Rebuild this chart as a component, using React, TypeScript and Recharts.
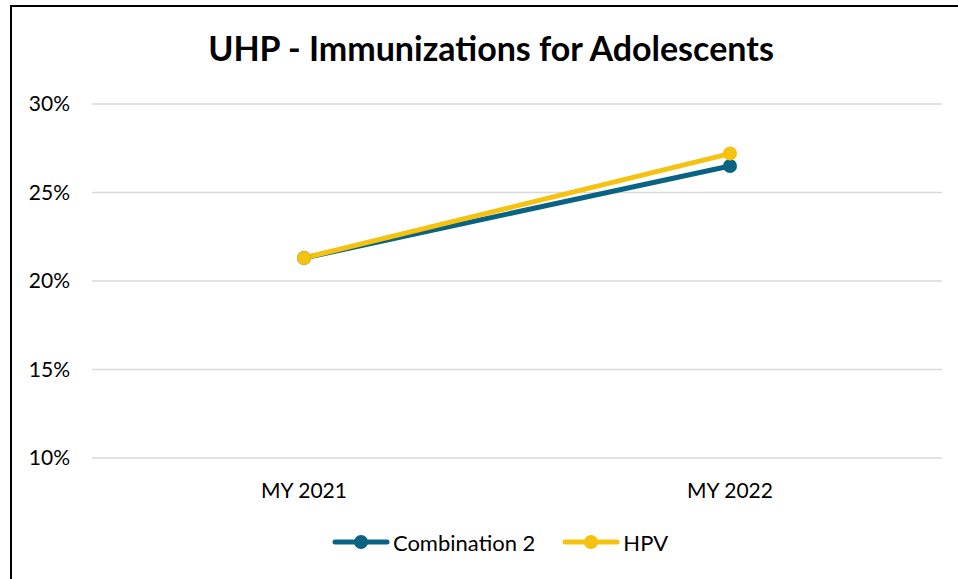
import { CartesianGrid, Legend, Line, LineChart, XAxis, YAxis } from "recharts";

const years = ["MY 2021", "MY 2022"];
const combination2 = [21.3, 26.5];
const hpv = [21.3, 27.2];
const yTicks = [10, 15, 20, 25, 30];

const seriesInfo = [
  { key: "combo", name: "Combination 2", color: "#0B6384" },
  { key: "hpv", name: "HPV", color: "#F5C20F" },
];

const rows = years.map((year, i) => ({ year, combo: combination2[i], hpv: hpv[i] }));

const FONT = "Lato, 'Open Sans', sans-serif";

function LegendRow() {
  return (
    <div
      style={{
        display: "flex",
        justifyContent: "center",
        gap: 27,
        paddingLeft: 46,
        fontFamily: FONT,
        fontSize: 22,
        color: "#000",
        height: 24,
      }}
    >
      {seriesInfo.map((s) => (
        <span key={s.key} style={{ display: "inline-flex", alignItems: "center", gap: 3 }}>
          <svg width={58} height={16}>
            <line x1={3} y1={8} x2={55} y2={8} stroke={s.color} strokeWidth={5} strokeLinecap="round" />
            <circle cx={29} cy={8} r={7} fill={s.color} />
          </svg>
          {s.name}
        </span>
      ))}
    </div>
  );
}

export default function App() {
  return (
    <div style={{ position: "absolute", left: 0, top: 0, width: 958, height: 579, overflow: "hidden", background: "#fff" }}>
      <div
        style={{
          position: "absolute",
          left: 10,
          top: 5,
          width: 1000,
          height: 700,
          borderLeft: "2px solid #000",
          borderTop: "2px solid #000",
        }}
      />
      <div
        style={{
          position: "absolute",
          left: 0,
          width: 982,
          top: 27,
          textAlign: "center",
          fontFamily: FONT,
          fontWeight: 700,
          fontSize: 34,
          color: "#000",
        }}
      >
        UHP - Immunizations for Adolescents
      </div>
      <div style={{ position: "absolute", left: 0, top: 0 }}>
        <LineChart width={958} height={579} data={rows} margin={{ top: 104, right: 16, bottom: 37, left: 12 }}>
          <CartesianGrid vertical={false} stroke="#d9d9d9" strokeWidth={1.5} />
          <XAxis
            dataKey="year"
            axisLine={false}
            tickLine={false}
            height={60}
            tickMargin={19}
            padding={{ left: 212, right: 212 }}
            tick={{ fill: "#000", fontSize: 21, fontFamily: FONT }}
          />
          <YAxis
            width={80}
            domain={[10, 30]}
            ticks={yTicks}
            axisLine={false}
            tickLine={false}
            tickMargin={16}
            tickFormatter={(v) => `${v}%`}
            tick={{ fill: "#000", fontSize: 21, fontFamily: FONT }}
          />
          <Legend verticalAlign="bottom" content={() => <LegendRow />} wrapperStyle={{ bottom: 25 }} />
          {seriesInfo.map((s) => (
            <Line
              key={s.key}
              dataKey={s.key}
              name={s.name}
              stroke={s.color}
              strokeWidth={5}
              dot={{ r: 7, fill: s.color, stroke: s.color, strokeWidth: 0 }}
              isAnimationActive={false}
            />
          ))}
        </LineChart>
      </div>
    </div>
  );
}
